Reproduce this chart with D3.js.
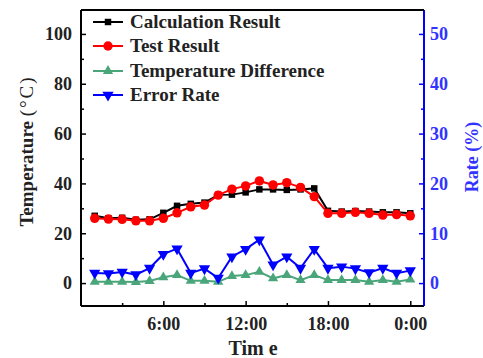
<!DOCTYPE html>
<html>
<head>
<meta charset="utf-8">
<script src="https://cdn.jsdelivr.net/npm/d3@7"></script>
<style>
  body { margin: 0; background: #fff; }
  svg text { font-family: "Liberation Serif", "Times New Roman", "DejaVu Serif", serif !important; font-weight: bold; }
</style>
</head>
<body>
<div id="chart_div"></div>
<script>
const hours = d3.range(1, 25);
const calcResult = [27.0, 26.0, 26.2, 25.4, 25.6, 28.2, 31.0, 31.8, 32.3, 35.4, 35.5, 36.4, 37.6, 37.6, 37.4, 37.6, 38.0, 29.0, 28.7, 28.9, 28.7, 28.4, 28.4, 28.0];
const testResult = [26.0, 25.7, 25.6, 25.0, 25.0, 26.0, 28.2, 30.6, 31.3, 35.3, 37.7, 39.0, 41.0, 39.4, 40.3, 38.4, 34.7, 28.0, 28.0, 28.4, 28.0, 27.3, 27.5, 27.0];
const tempDiff = [0.5, 0.5, 0.5, 0.4, 0.8, 2.3, 3.2, 0.9, 0.9, 0.5, 2.8, 3.2, 4.5, 1.9, 3.2, 1.2, 3.2, 1.2, 1.2, 1.2, 0.5, 1.2, 0.5, 1.4];
const errorRate = [2.0, 1.9, 2.2, 1.7, 3.0, 5.8, 6.9, 2.0, 2.9, 1.0, 5.3, 6.8, 8.7, 3.7, 5.3, 3.0, 6.8, 3.0, 3.3, 2.9, 2.1, 3.0, 2.0, 2.5];
const xTicks = [6, 12, 18, 24];
const xTickLabels = ["6:00", "12:00", "18:00", "0:00"];
const leftTicks = [0, 20, 40, 60, 80, 100];
const rightTicks = [0, 10, 20, 30, 40, 50];

const width = 483;
const height = 358;
const padL = 81, padR = 424, padT = 10, padB = 306;
const serif = "'Liberation Serif', 'Times New Roman', 'DejaVu Serif', serif";

const x = d3.scaleLinear().domain([0, 25]).range([padL, padR]);
const y = d3.scaleLinear().domain([-9.2, 109.6]).range([padB, padT]);
const y2 = d3.scaleLinear().domain([-4.6, 54.8]).range([padB, padT]);

const svg = d3.select("#chart_div")
    .append("svg")
    .attr("width", width)
    .attr("height", height)
    .attr("font-family", serif);

const green = "#4aa67a";
const blue = "#0000ff";

// axes
const xAxis = svg.append("g")
    .attr("transform", `translate(0,${padB})`)
    .call(d3.axisBottom(x).tickValues(xTicks).tickSize(-5).tickPadding(11)
        .tickFormat((d, i) => xTickLabels[i]));
svg.append("g")
    .attr("transform", `translate(0,${padB})`)
    .call(d3.axisBottom(x).tickValues([3, 9, 15, 21]).tickSize(-3).tickFormat(""))
    .call(g => g.select(".domain").remove());

const yAxis = svg.append("g")
    .attr("transform", `translate(${padL},0)`)
    .call(d3.axisLeft(y).tickValues(leftTicks).tickSize(-5).tickPadding(9));
svg.append("g")
    .attr("transform", `translate(${padL},0)`)
    .call(d3.axisLeft(y).tickValues([10, 30, 50, 70, 90]).tickSize(-3).tickFormat(""))
    .call(g => g.select(".domain").remove());

const y2Axis = svg.append("g")
    .attr("transform", `translate(${padR},0)`)
    .call(d3.axisRight(y2).tickValues(rightTicks).tickSize(-5).tickPadding(6));
const y2Minor = svg.append("g")
    .attr("transform", `translate(${padR},0)`)
    .call(d3.axisRight(y2).tickValues([5, 15, 25, 35, 45]).tickSize(-3).tickFormat(""))
    .call(g => g.select(".domain").remove());

svg.selectAll("g").attr("font-family", serif);
svg.selectAll(".domain").attr("stroke-width", 2);
svg.selectAll(".tick line").attr("stroke-width", 1.5);
svg.selectAll("g text").attr("font-size", 18).attr("fill", "#222");
xAxis.selectAll(".domain").attr("d", `M${padL},0H${padR}`);
yAxis.selectAll(".domain").attr("d", `M0,${padB}V${padT}`);
y2Axis.selectAll(".domain").attr("d", `M0,${padB}V${padT}`).attr("stroke", blue);
y2Axis.selectAll(".tick line").attr("stroke", blue);
y2Minor.selectAll(".tick line").attr("stroke", blue);
y2Axis.selectAll("text").attr("fill", "#3333ff");

// top frame
svg.append("line")
    .attr("x1", padL).attr("x2", padR).attr("y1", padT).attr("y2", padT)
    .attr("stroke", "#000").attr("stroke-width", 2);

// series
const series = [
    { name: "Calculation Result", values: calcResult, scale: y, color: "#000", symbol: d3.symbolSquare, size: 42, rot: 0 },
    { name: "Test Result", values: testResult, scale: y, color: "#ff0000", symbol: d3.symbolCircle, size: 70, rot: 0 },
    { name: "Temperature Difference", values: tempDiff, scale: y, color: green, symbol: d3.symbolTriangle, size: 45, rot: 0 },
    { name: "Error Rate", values: errorRate, scale: y2, color: blue, symbol: d3.symbolTriangle, size: 55, rot: 180 }
];

series.forEach(s => {
    const line = d3.line()
        .x((d, i) => x(hours[i]))
        .y(d => s.scale(d));
    svg.append("path")
        .datum(s.values)
        .attr("fill", "none")
        .attr("stroke", s.color)
        .attr("stroke-width", 2)
        .attr("d", line);
    svg.append("g")
        .selectAll("path")
        .data(s.values)
        .enter()
        .append("path")
        .attr("d", d3.symbol().type(s.symbol).size(s.size))
        .attr("transform", (d, i) => `translate(${x(hours[i])},${s.scale(d)}) rotate(${s.rot})`)
        .attr("fill", s.color);
});

// legend
const legend = svg.append("g").attr("id", "legend");
const rowY = [22, 46, 71, 95];
series.forEach((s, i) => {
    legend.append("line")
        .attr("x1", 93).attr("x2", 123)
        .attr("y1", rowY[i]).attr("y2", rowY[i])
        .attr("stroke", s.color).attr("stroke-width", 2);
    legend.append("path")
        .attr("d", d3.symbol().type(s.symbol).size(s.size))
        .attr("transform", `translate(108,${rowY[i]}) rotate(${s.rot})`)
        .attr("fill", s.color);
    legend.append("text")
        .attr("x", 130).attr("y", rowY[i] + 6)
        .attr("font-size", 19)
        .attr("fill", "#222")
        .text(s.name);
});

// titles
const tTitle = svg.append("text")
    .attr("transform", "translate(33,151) rotate(-90)")
    .attr("text-anchor", "middle")
    .attr("font-size", 19)
    .attr("fill", "#222");
tTitle.append("tspan").text("Temperature ");
tTitle.append("tspan").attr("letter-spacing", 2).attr("font-weight", "normal").text("(°C)");
svg.append("text")
    .attr("transform", "translate(478,157) rotate(-90)")
    .attr("text-anchor", "middle")
    .attr("font-size", 18)
    .attr("fill", "#3333ff")
    .text("Rate (%)");
svg.append("text")
    .attr("x", 253).attr("y", 355)
    .attr("text-anchor", "middle")
    .attr("font-size", 20)
    .attr("fill", "#222")
    .text("Tim e");
</script>
</body>
</html>
